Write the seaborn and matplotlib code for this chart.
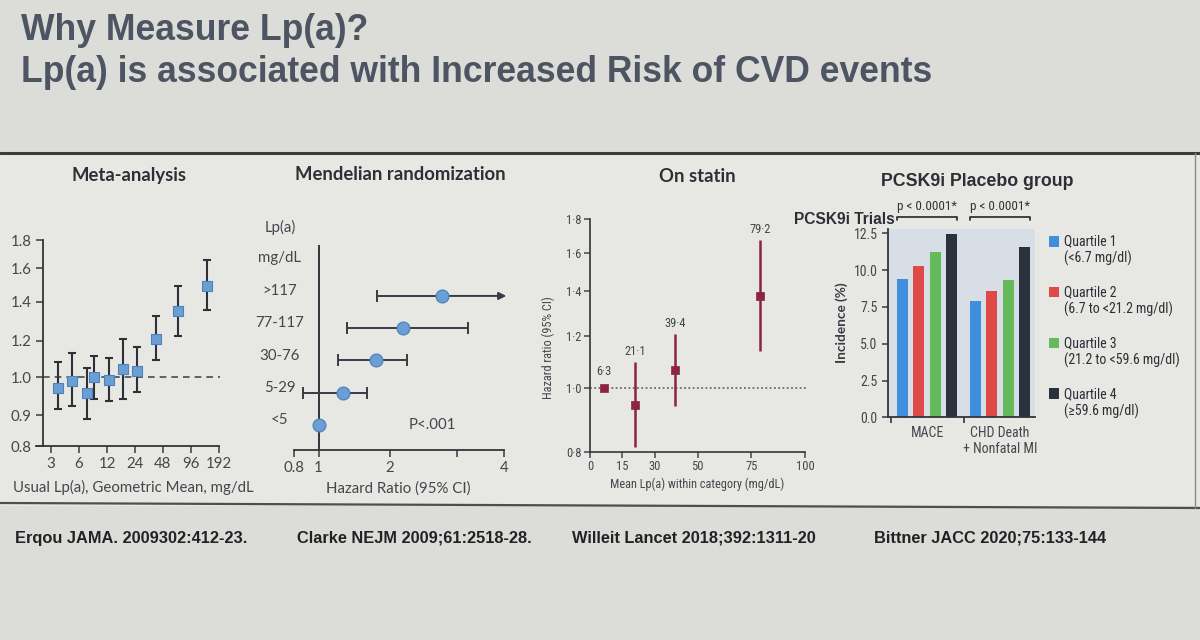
import numpy as np
import pandas as pd
import matplotlib
matplotlib.use("Agg")
import matplotlib.pyplot as plt
import seaborn as sns
from matplotlib.patches import Rectangle, Patch
from matplotlib.lines import Line2D
from matplotlib.legend_handler import HandlerPatch
from matplotlib.ticker import FixedLocator, NullLocator, FuncFormatter
from matplotlib.transforms import blended_transform_factory

# ---------------- data ----------------
# Meta-analysis (Erqou JAMA 2009)
meta_lpa = [3.6, 5.1, 7.3, 8.8, 12.6, 17.7, 25.2, 40.0, 69.0, 142.6]
meta_rr = [0.973, 0.991, 0.959, 1.000, 0.992, 1.045, 1.036, 1.210, 1.354, 1.496]
meta_lo = [0.915, 0.925, 0.886, 0.944, 0.938, 0.944, 0.962, 1.095, 1.226, 1.357]
meta_hi = [1.082, 1.135, 1.051, 1.118, 1.104, 1.207, 1.164, 1.328, 1.496, 1.659]
meta_xticks = [3, 6, 12, 24, 48, 96, 192]
meta_yticks = [0.8, 0.9, 1.0, 1.2, 1.4, 1.6, 1.8]

# Mendelian randomization (Clarke NEJM 2009)
mr_groups = [">117", "77-117", "30-76", "5-29", "<5"]
mr_hr = [2.78, 2.20, 1.81, 1.34, 1.00]
mr_lo = [1.82, 1.40, 1.27, 0.87, np.nan]
mr_hi = [4.05, 3.23, 2.25, 1.68, np.nan]
mr_xticks = [0.8, 1, 2, 3, 4]
mr_xticklabels = ["0.8", "1", "2", "", "4"]

# On statin (Willeit Lancet 2018)
statin_lpa = [6.3, 21.1, 39.4, 79.2]
statin_hr = [1.000, 0.942, 1.065, 1.377]
statin_lo = [np.nan, 0.814, 0.940, 1.136]
statin_hi = [np.nan, 1.093, 1.207, 1.673]
statin_xticks = [0, 15, 30, 50, 75, 100]
statin_yticks = [0.8, 1.0, 1.2, 1.4, 1.6, 1.8]

# PCSK9i placebo group (Bittner JACC 2020)
endpoints = ["MACE", "CHD Death\n+ Nonfatal MI"]
quartiles = ["Quartile 1\n(<6.7 mg/dl)", "Quartile 2\n(6.7 to <21.2 mg/dl)",
             "Quartile 3\n(21.2 to <59.6 mg/dl)", "Quartile 4\n(\u226559.6 mg/dl)"]
mace_inc = [9.37, 10.30, 11.23, 12.43]
chd_inc = [7.88, 8.60, 9.33, 11.59]
pvals = ["p < 0.0001*", "p < 0.0001*"]
bar_yticks = [0.0, 2.5, 5.0, 7.5, 10.0, 12.5]

citations = ["Erqou JAMA. 2009302:412-23.", "Clarke NEJM 2009;61:2518-28.",
             "Willeit Lancet 2018;392:1311-20", "Bittner JACC 2020;75:133-144"]

# ---------------- style ----------------
sns.set_style("ticks")
CHART = ["Lato", "DejaVu Sans"]
NARROW = ["Roboto Condensed", "Liberation Sans Narrow", "Open Sans Condensed",
          "DejaVu Sans Condensed", "Lato", "DejaVu Sans"]
SLIDE = ["Liberation Sans", "DejaVu Sans"]
plt.rcParams["font.family"] = CHART

BG = "#dcdcd9"
PANEL = "#e7e7e4"
INK = "#2e2e36"
TICKC = "#45454d"
BLUE_PT = "#6a9fd6"
BLUE_EDGE = "#4f82bb"
MAROON = "#8c2342"
Q_COLORS = ["#3f8fdc", "#de4a45", "#65bb5c", "#2a313d"]

W, H = 1200, 640
fig = plt.figure(figsize=(12, 6.4), dpi=100, facecolor=BG)


def rect(x0, y0, x1, y1):
    return [x0 / W, 1 - y1 / H, (x1 - x0) / W, (y1 - y0) / H]


def fpt(x, y):
    return (x / W, 1 - y / H)


def piecewise(xs, ys):
    xs = np.asarray(xs, float)
    ys = np.asarray(ys, float)
    s0 = (ys[1] - ys[0]) / (xs[1] - xs[0])
    s1 = (ys[-1] - ys[-2]) / (xs[-1] - xs[-2])

    def f(v):
        v = np.asarray(v, float)
        out = np.interp(v, xs, ys)
        out = np.where(v < xs[0], ys[0] + (v - xs[0]) * s0, out)
        out = np.where(v > xs[-1], ys[-1] + (v - xs[-1]) * s1, out)
        return out
    return f


# slide background decorations (behind axes)
fig.patches.append(Rectangle((0, 1 - 506 / H), 1, (506 - 153) / H, transform=fig.transFigure,
                             facecolor=PANEL, edgecolor="none", zorder=-5))
fig.lines.append(Line2D([0, 1], [1 - 153 / H] * 2, transform=fig.transFigure, color="#3c3c40", lw=2.2, zorder=-4))
fig.lines.append(Line2D([0, 1], [1 - 503 / H, 1 - 508 / H], transform=fig.transFigure, color="#4e4e52", lw=1.6, zorder=-4))
fig.lines.append(Line2D([1195 / W] * 2, [1 - 153 / H, 1 - 508 / H], transform=fig.transFigure, color="#8a8a8a", lw=1, zorder=-4))

# slide title
fig.text(*fpt(21, 31), "Why Measure Lp(a)?", fontsize=25.6, fontweight="bold", family=SLIDE,
         color="#4d5462", va="center", ha="left")
fig.text(*fpt(21, 73), "Lp(a) is associated with Increased Risk of CVD events", fontsize=25.6,
         fontweight="bold", family=SLIDE, color="#4d5462", va="center", ha="left")

# panel titles
fig.text(*fpt(129, 175), "Meta-analysis", fontsize=13.3, fontweight="bold", color=INK, ha="center", va="center")
fig.text(*fpt(400, 175), "Mendelian randomization", fontsize=13.3, fontweight="bold", color=INK, ha="center", va="center")
fig.text(*fpt(697, 177), "On statin", fontsize=13.3, fontweight="bold", color=INK, ha="center", va="center")
fig.text(*fpt(977, 181), "PCSK9i Placebo group", fontsize=12.8, fontweight="bold", family=SLIDE,
         color=INK, ha="center", va="center")
fig.text(*fpt(895, 219), "PCSK9i Trials", fontsize=11.2, fontweight="bold", family=SLIDE,
         color=INK, ha="right", va="center")

# citations
for txt, x in zip(citations, [15, 297, 572, 874]):
    fig.text(*fpt(x, 538), txt, fontsize=11.8, fontweight="bold", family=SLIDE, color="#222226",
             ha="left", va="center")

# ---------------- panel 1: meta-analysis ----------------
ax1 = fig.add_axes(rect(36, 240, 219, 446))
ax1.set_facecolor("none")
ax1.set_xscale("log", base=2)
meta_yfrac = [0.0, 0.150, 0.333, 0.511, 0.700, 0.863, 1.0]
ax1.set_yscale("function", functions=(piecewise(meta_yticks, meta_yfrac), piecewise(meta_yfrac, meta_yticks)))
ax1.set_xlim(2.07, 192)
ax1.set_ylim(meta_yticks[0], meta_yticks[-1])
spine_x = 2.46
ax1.spines["left"].set_position(("data", spine_x))
ax1.hlines(1.0, spine_x, 197, colors="#4a4a50", linestyles=(0, (4, 3)), lw=1.2, clip_on=False, zorder=1)
rr = np.array(meta_rr)
ax1.errorbar(meta_lpa, meta_rr, yerr=[rr - np.array(meta_lo), np.array(meta_hi) - rr], fmt="none",
             ecolor="#2f2f38", elinewidth=1.5, capsize=3, capthick=1.5, zorder=2)
sns.scatterplot(x=meta_lpa, y=meta_rr, marker="s", s=60, color=BLUE_PT, edgecolor=BLUE_EDGE,
                linewidth=0.8, ax=ax1, zorder=3)
ax1.xaxis.set_major_locator(FixedLocator(meta_xticks))
ax1.xaxis.set_major_formatter(FuncFormatter(lambda v, p: f"{v:g}"))
ax1.xaxis.set_minor_locator(NullLocator())
ax1.yaxis.set_major_locator(FixedLocator(meta_yticks))
ax1.yaxis.set_major_formatter(FuncFormatter(lambda v, p: f"{v:.1f}"))
ax1.yaxis.set_minor_locator(NullLocator())
for s in ["top", "right"]:
    ax1.spines[s].set_visible(False)
for s in ["left", "bottom"]:
    ax1.spines[s].set_color("#33333a")
    ax1.spines[s].set_linewidth(1.3)
ax1.tick_params(labelsize=10.8, colors=TICKC, length=5, width=1.2, pad=3)
ax1.set_xlabel("Usual Lp(a), Geometric Mean, mg/dL", fontsize=10.8, color=TICKC)
ax1.xaxis.set_label_coords(0.53, -0.165)

# ---------------- panel 2: Mendelian randomization ----------------
ax2 = fig.add_axes(rect(294, 245, 504, 450))
ax2.set_facecolor("none")
mr_xfrac = [0.0, 0.117, 0.456, 0.777, 1.0]
ax2.set_xscale("function", functions=(piecewise(mr_xticks, mr_xfrac), piecewise(mr_xfrac, mr_xticks)))
ax2.set_xlim(mr_xticks[0], mr_xticks[-1])
rows = np.arange(len(mr_groups))[::-1]
ax2.set_ylim(-0.78, 5.58)
ax2.axvline(1, color="#33333a", lw=1.4, zorder=1)
xmax = ax2.get_xlim()[1]
for y, hr, lo, hi in zip(rows, mr_hr, mr_lo, mr_hi):
    if np.isnan(lo):
        continue
    if hi > xmax:
        ax2.errorbar([hr], [y], xerr=[[hr - lo], [0]], fmt="none", ecolor="#3a3a44", elinewidth=1.4,
                     capsize=4.5, capthick=1.4, zorder=2)
        ax2.annotate("", xy=(hi, y), xytext=(hr, y), annotation_clip=False,
                     arrowprops=dict(arrowstyle="-|>", color="#3a3a44", lw=1.4, mutation_scale=11,
                                     shrinkA=0, shrinkB=0), zorder=2)
    else:
        ax2.errorbar([hr], [y], xerr=[[hr - lo], [hi - hr]], fmt="none", ecolor="#3a3a44", elinewidth=1.4,
                     capsize=4.5, capthick=1.4, zorder=2)
sns.scatterplot(x=mr_hr, y=rows, marker="o", s=85, color=BLUE_PT, edgecolor=BLUE_EDGE,
                linewidth=0.9, ax=ax2, zorder=3, clip_on=False)
lab_tr = blended_transform_factory(ax2.transAxes, ax2.transData)
for y, g in zip(rows, mr_groups):
    ax2.text(-0.067, y + 0.15, g, transform=lab_tr, ha="center", va="center", fontsize=10.8, color=TICKC)
ax2.text(-0.067, 6.11, "Lp(a)", transform=lab_tr, ha="center", va="center", fontsize=10.8, color=TICKC, clip_on=False)
ax2.text(-0.067, 5.18, "mg/dL", transform=lab_tr, ha="center", va="center", fontsize=10.8, color=TICKC, clip_on=False)
ax2.text(0.66, 0.0, "P<.001", transform=lab_tr, ha="center", va="center", fontsize=10.8, color=TICKC)
ax2.xaxis.set_major_locator(FixedLocator(mr_xticks))
ax2.xaxis.set_major_formatter(FuncFormatter(lambda v, p: dict(zip(mr_xticks, mr_xticklabels)).get(round(v, 3), "")))
ax2.xaxis.set_minor_locator(NullLocator())
for s in ["top", "right", "left"]:
    ax2.spines[s].set_visible(False)
ax2.spines["bottom"].set_color("#33333a")
ax2.spines["bottom"].set_linewidth(1.3)
ax2.tick_params(axis="y", left=False, labelleft=False)
ax2.tick_params(axis="x", labelsize=10.8, colors=TICKC, length=5, width=1.2, pad=3)
ax2.set_xlabel("Hazard Ratio (95% CI)", fontsize=10.8, color=TICKC)
ax2.xaxis.set_label_coords(0.495, -0.155)

# ---------------- panel 3: On statin ----------------
ax3 = fig.add_axes(rect(590, 219, 805, 452))
ax3.set_facecolor("none")
ax3.set_yscale("log")
ax3.set_xlim(statin_xticks[0], statin_xticks[-1])
ax3.set_ylim(statin_yticks[0], statin_yticks[-1])
ax3.axhline(1.0, color="#55555c", lw=1.1, ls=(0, (1.2, 1.6)), zorder=1, xmax=1.01, clip_on=False)
ax3.vlines(statin_lpa, statin_lo, statin_hi, colors=MAROON, lw=1.8, zorder=2)
sns.scatterplot(x=statin_lpa, y=statin_hr, marker="s", s=34, color=MAROON, edgecolor=MAROON,
                linewidth=0.5, ax=ax3, zorder=3)
for x, hr, hi in zip(statin_lpa, statin_hr, statin_hi):
    top = hr if np.isnan(hi) else hi
    off = 7 if np.isnan(hi) else 3
    ax3.annotate(f"{x:.1f}".replace(".", "\u00b7"), xy=(x, top), xytext=(0, off), textcoords="offset points",
                 ha="center", va="bottom", fontsize=9, color=TICKC, family=NARROW)
ax3.xaxis.set_major_locator(FixedLocator(statin_xticks))
ax3.yaxis.set_major_locator(FixedLocator(statin_yticks))
ax3.yaxis.set_major_formatter(FuncFormatter(lambda v, p: f"{v:.1f}".replace(".", "\u00b7")))
ax3.yaxis.set_minor_locator(NullLocator())
for s in ["top", "right"]:
    ax3.spines[s].set_visible(False)
for s in ["left", "bottom"]:
    ax3.spines[s].set_color("#33333a")
    ax3.spines[s].set_linewidth(1.2)
ax3.tick_params(labelsize=9, colors=TICKC, length=4, width=1.1, pad=2, labelfontfamily=NARROW)
ax3.set_ylabel("Hazard ratio (95% CI)", fontsize=8.8, color=TICKC, family=NARROW)
ax3.yaxis.set_label_coords(-0.165, 0.45)
ax3.set_xlabel("Mean Lp(a) within category (mg/dL)", fontsize=8.8, color=TICKC, family=NARROW)
ax3.xaxis.set_label_coords(0.5, -0.11)

# ---------------- panel 4: PCSK9i placebo ----------------
ax4 = fig.add_axes(rect(888, 229, 1035, 417.3))
ax4.set_facecolor("#d8dee6")
df_bar = pd.DataFrame({
    "endpoint": np.repeat(endpoints, len(quartiles)),
    "quartile": quartiles * len(endpoints),
    "incidence": mace_inc + chd_inc,
})
sns.barplot(data=df_bar, x="endpoint", y="incidence", hue="quartile", palette=Q_COLORS, saturation=1,
            width=0.9, gap=0.33, linewidth=0, ax=ax4, zorder=2)
ax4.set_xlim(-0.535, 1.48)
ax4.set_ylim(0, 12.8)
ax4.yaxis.set_major_locator(FixedLocator(bar_yticks))
ax4.yaxis.set_major_formatter(FuncFormatter(lambda v, p: f"{v:.1f}"))
ax4.xaxis.set_minor_locator(FixedLocator([-0.5, 0.5, 1.5]))
ax4.tick_params(axis="x", which="major", length=0, pad=6)
ax4.tick_params(axis="x", which="minor", length=4, width=1.2, color="#33333a")
ax4.tick_params(axis="both", which="major", labelsize=10, colors=TICKC, labelfontfamily=NARROW)
ax4.tick_params(axis="y", length=4, width=1.2)
for s in ["top", "right"]:
    ax4.spines[s].set_visible(False)
for s in ["left", "bottom"]:
    ax4.spines[s].set_color("#33333a")
    ax4.spines[s].set_linewidth(1.3)
ax4.set_xlabel("")
ax4.set_ylabel("Incidence (%)", fontsize=9.8, fontweight="bold", color="#3a3a44")
ax4.yaxis.set_label_coords(-0.27, 0.5)
br_tr = blended_transform_factory(ax4.transData, ax4.transAxes)
for i, ptxt in enumerate(pvals):
    bars = [c[i] for c in ax4.containers]
    x0 = min(b.get_x() for b in bars)
    x1 = max(b.get_x() + b.get_width() for b in bars)
    ax4.plot([x0, x0, x1, x1], [1.047, 1.064, 1.064, 1.047], transform=br_tr, clip_on=False,
             color="#33333a", lw=1.3)
    ax4.text((x0 + x1) / 2, 1.085, ptxt, transform=br_tr, ha="center", va="bottom", fontsize=9.5,
             color="#33333a", family=NARROW)


def top_square(legend, orig_handle, xdescent, ydescent, width, height, fontsize):
    return Rectangle((-xdescent, 0.68 * fontsize), width, width)


sns.move_legend(ax4, "upper left", bbox_to_anchor=(1.095, 0.97), frameon=False, title=None,
                prop=dict(family=NARROW, size=10), handlelength=0.75, handleheight=2.2,
                labelspacing=1.37, handletextpad=0.35, borderaxespad=0, borderpad=0,
                handler_map={Patch: HandlerPatch(patch_func=top_square)})
for t in ax4.get_legend().get_texts():
    t.set_color("#2e2e36")

fig.savefig("out.png", dpi=100, facecolor=BG)
